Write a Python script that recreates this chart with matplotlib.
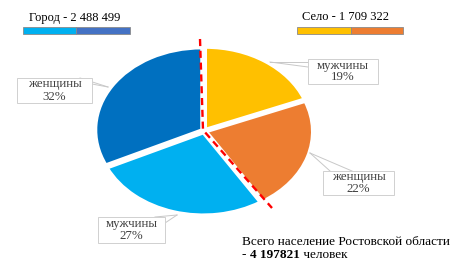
import matplotlib
matplotlib.use("Agg")
import matplotlib.pyplot as plt
from matplotlib.patches import Rectangle

plt.rcParams['font.family'] = ['Liberation Serif', 'DejaVu Serif']

# Data
slice_labels = ["мужчины", "женщины", "мужчины", "женщины"]
slice_values = [19, 22, 27, 32]
slice_colors = ["#FFC000", "#ED7D31", "#00B0F0", "#0070C0"]
city_title = "Город - 2 488 499"
city_colors = ["#00B0F0", "#4472C4"]
village_title = "Село - 1 709 322"
village_colors = ["#FFC000", "#ED7D31"]
total_line1 = "Всего население Ростовской области"
total_value = "4 197821"

W, H = 475, 271
fig = plt.figure(figsize=(W / 100, H / 100), dpi=100)

def fx(x):
    return x / W

def fy(y):
    return 1 - y / H

# Pie axes (elliptical)
cx, cy, rx, ry = 204, 131, 106, 82
axp = fig.add_axes([fx(cx - rx), fy(cy + ry), 2 * rx / W, 2 * ry / H])
axp.pie(slice_values, colors=slice_colors, startangle=90, counterclock=False,
        explode=[0.025] * 4,
        wedgeprops=dict(edgecolor="white", linewidth=2.2))
axp.set_aspect('auto')
axp.set_xlim(-1, 1)
axp.set_ylim(-1, 1)
axp.axis('off')

# Overlay axes in pixel coordinates
ax = fig.add_axes([0, 0, 1, 1])
ax.set_xlim(0, W)
ax.set_ylim(H, 0)
ax.axis('off')
ax.patch.set_alpha(0)

# Legend bars
def legend_bar(x0, x1, xs, y0, y1, cols, title, tx):
    ax.add_patch(Rectangle((x0, y0), xs - x0, y1 - y0, facecolor=cols[0],
                           edgecolor="#8a8a8a", linewidth=0.6))
    ax.add_patch(Rectangle((xs, y0), x1 - xs, y1 - y0, facecolor=cols[1],
                           edgecolor="#8a8a8a", linewidth=0.6))
    ax.text(tx, 17.5, title, ha='center', va='center', fontsize=9, color="#000000")

legend_bar(23, 130, 76, 27, 34, city_colors, city_title, 75)
legend_bar(297, 403, 351, 27, 34, village_colors, village_title, 346)

# Red dashed split line
ax.plot([200, 203, 272], [39, 130, 208], color="#FF0000", linewidth=1.7,
        linestyle=(0, (3, 2)), zorder=5)

# Data labels with callouts
boxes = [
    (308, 59, 378, 84, (270, 62), [(308, 62), (308, 67)]),
    (323, 171, 394, 195, (310, 153), [(330, 171), (352, 171)]),
    (98, 217, 165, 243, (177, 215), [(155, 217), (165, 223)]),
    (17, 78, 92, 103, (108, 87), [(80, 78), (92, 84)]),
]
for (x0, y0, x1, y1, tip, joins), lab, val in zip(boxes, slice_labels, slice_values):
    for j in joins:
        ax.plot([j[0], tip[0]], [j[1], tip[1]], color="#c8c8c8", linewidth=0.7, zorder=3)
    ax.add_patch(Rectangle((x0, y0), x1 - x0, y1 - y0, facecolor="white",
                           edgecolor="#d0d0d0", linewidth=0.7, zorder=4))
    ax.text((x0 + x1) / 2, (y0 + y1) / 2, f"{lab}\n{val}%", ha='center', va='center',
            fontsize=9.3, color="#404040", linespacing=1.0, zorder=6)

# Total text
ybase = 254.5
ax.text(242, 242, total_line1, ha='left', va='center', fontsize=9.5, color="#000000")
t1 = ax.text(242, ybase, "- ", ha='left', va='center', fontsize=9.5, color="#000000")
fig.canvas.draw()
bb = t1.get_window_extent()
ypix = fig.bbox.height - ybase * fig.dpi / 100
t2 = ax.annotate(total_value, xy=(0, 0), xycoords='figure pixels',
                 xytext=(bb.x1, ypix), textcoords='figure pixels',
                 ha='left', va='center', fontsize=9.5, fontweight='bold', color="#000000")
fig.canvas.draw()
bb2 = t2.get_window_extent()
ax.annotate(" человек", xy=(0, 0), xycoords='figure pixels',
            xytext=(bb2.x1, ypix), textcoords='figure pixels',
            ha='left', va='center', fontsize=9.5, color="#000000")

fig.savefig("out.png", dpi=100)
